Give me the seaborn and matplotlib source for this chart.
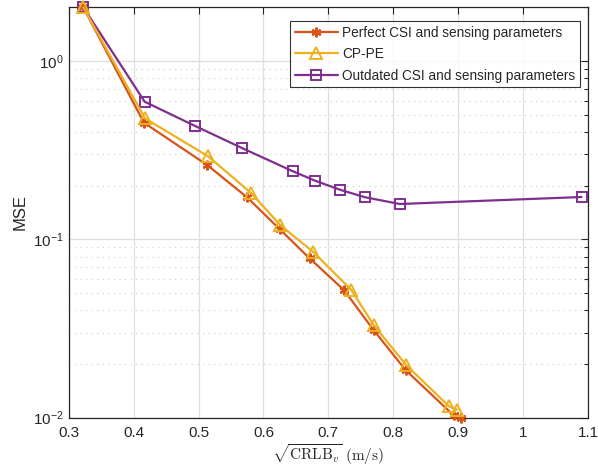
import matplotlib
matplotlib.use("Agg")
import matplotlib.pyplot as plt
import seaborn as sns
import numpy as np
from matplotlib.ticker import LogLocator, NullFormatter

# Data
perfect_x = [0.3225, 0.4158, 0.5133, 0.5748, 0.6250, 0.6712, 0.7240, 0.7697, 0.8189, 0.8930, 0.9040]
perfect_y = [2.0, 0.451, 0.261, 0.172, 0.114, 0.0782, 0.052, 0.031, 0.0185, 0.0103, 0.0100]

cppe_x = [0.3225, 0.4174, 0.5148, 0.5805, 0.6260, 0.6763, 0.7354, 0.7697, 0.8200, 0.8856, 0.8980]
cppe_y = [2.0, 0.477, 0.292, 0.1825, 0.120, 0.0852, 0.052, 0.0331, 0.0197, 0.0116, 0.0111]

outdated_x = [0.3225, 0.4170, 0.4948, 0.5677, 0.6456, 0.6794, 0.7179, 0.7569, 0.8102, 1.0900]
outdated_y = [2.0, 0.591, 0.432, 0.324, 0.2405, 0.2133, 0.1897, 0.172, 0.1578, 0.1727]

labels = ["Perfect CSI and sensing parameters", "CP-PE", "Outdated CSI and sensing parameters"]
xticks = [0.3, 0.4, 0.5, 0.6, 0.7, 0.8, 0.9, 1.0, 1.1]
xticklabels = ["0.3", "0.4", "0.5", "0.6", "0.7", "0.8", "0.9", "1", "1.1"]

sns.set_style("white")
plt.rcParams["font.family"] = ["Liberation Sans", "DejaVu Sans"]
plt.rcParams["mathtext.fontset"] = "cm"

fig = plt.figure(figsize=(5.98, 4.67), dpi=100)
ax = fig.add_axes([0.1149, 0.1056, 0.8684, 0.8788])

c_or = "#D95319"
c_ye = "#EDB120"
c_pu = "#7E2F8E"

sns.lineplot(x=perfect_x, y=perfect_y, ax=ax, sort=False, color=c_or, lw=1.6,
             marker=(6, 2, 0), markersize=7, markeredgewidth=1.6,
             markeredgecolor=c_or, label=labels[0], clip_on=False, zorder=3)
sns.lineplot(x=cppe_x, y=cppe_y, ax=ax, sort=False, color=c_ye, lw=1.6,
             marker="^", markersize=9, markerfacecolor="none", markeredgewidth=1.4,
             markeredgecolor=c_ye, label=labels[1], clip_on=False, zorder=4)
sns.lineplot(x=outdated_x, y=outdated_y, ax=ax, sort=False, color=c_pu, lw=1.6,
             marker="s", markersize=7, markerfacecolor="none", markeredgewidth=1.4,
             markeredgecolor=c_pu, label=labels[2], clip_on=False, zorder=3)

ax.set_yscale("log")
ax.set_xlim(0.3, 1.1)
ax.set_ylim(0.01, 2)
ax.set_xticks(xticks)
ax.set_xticklabels(xticklabels)
ax.yaxis.set_major_locator(LogLocator(base=10, numticks=10))
ax.yaxis.set_minor_locator(LogLocator(base=10, subs=np.arange(2, 10), numticks=20))
ax.yaxis.set_minor_formatter(NullFormatter())

ax.grid(True, which="major", color="#dedede", lw=0.9, ls="-")
ax.grid(True, which="minor", axis="y", color="#cccccc", lw=0.8, ls=(0, (1, 4)))
ax.set_axisbelow(True)

for s in ax.spines.values():
    s.set_color("#262626")
    s.set_linewidth(0.9)
ax.tick_params(which="both", direction="in", top=True, right=True, colors="#262626",
               labelsize=11, width=0.8)
ax.tick_params(which="major", length=5)
ax.tick_params(which="minor", length=3)
ax.tick_params(axis="x", pad=6)

ax.set_xlabel(r"$\sqrt{\mathrm{CRLB}_v}\ \mathrm{(m/s)}$", fontsize=11, color="#262626")
ax.xaxis.label.set_va("center")
ax.xaxis.set_label_coords(0.5, -0.09)
ax.set_ylabel("MSE", fontsize=12, color="#262626", labelpad=4)

leg = ax.legend(loc="upper right", bbox_to_anchor=(0.985, 0.967), fontsize=9.8, frameon=True,
                fancybox=False, borderpad=0.35, labelspacing=0.55, handlelength=3.2,
                handletextpad=0.3, borderaxespad=0)
leg.get_frame().set_edgecolor("#000000")
leg.get_frame().set_linewidth(0.8)

fig.savefig("out.png", dpi=100)
